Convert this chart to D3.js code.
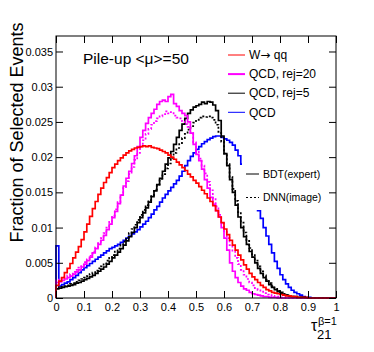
<!DOCTYPE html>
<html>
<head>
<meta charset="utf-8">
<script src="https://cdn.jsdelivr.net/npm/d3@7"></script>
<style>
  body { margin: 0; background: #fff; }
  text { font-family: "Liberation Sans", Arial, sans-serif; }
</style>
</head>
<body>
<script>
// tau21 histograms, 100 bins on [0,1], bin contents in units of 1e-4
const wqq = [18,24,29,36,42,49,57,65,73,83,
  94,105,116,127,137,147,156,164,171,178,
  185,190,195,199,203,206,209,211,213,214,
  215,216,215,216,214,213,212,210,208,206,
  203,200,197,193,189,185,181,176,172,167,
  163,158,153,148,142,137,131,124,115,107,
  98,90,82,75,68,61,54,47,41,35,
  30,26,22,18,15,12,10,8,7,6,
  5,4,3,3,2,2,1,1,1,1,
  0,0,0,0,0,0,0,0,0,0]
const qcd = [74,17,19,21,23,26,29,32,36,40,
  43,46,49,52,55,58,61,64,67,70,
  72,74,76,79,82,85,88,91,94,97,
  101,105,109,114,119,125,130,136,142,147,
  152,157,162,167,173,180,188,195,201,206,
  211,215,219,222,225,227,229,230,230,228,
  226,224,221,217,210,202,190,178,165,150,
  138,132,124,113,100,88,76,64,52,42,
  33,26,20,15,11,8,6,4,2,1,
  1,0,0,0,0,0,0,0,0,0]
const bdtRej5 = [13,14,15,16,17,18,19,21,22,24,
  26,28,30,32,35,38,41,44,48,52,
  57,61,65,70,75,81,87,93,100,107,
  114,121,128,136,144,152,161,170,180,190,
  199,208,218,228,238,247,255,262,267,271,
  273,275,278,276,279,278,274,266,252,230,
  205,188,168,150,132,115,100,87,76,66,
  58,50,42,35,29,24,19,15,12,9,
  7,5,4,3,2,2,1,1,1,0,
  0,0,0,0,0,0,0,0,0,0]
const dnnRej5 = [14,15,16,17,18,20,21,23,25,27,
  29,31,34,36,39,42,45,49,53,57,
  61,66,70,75,80,86,92,98,104,111,
  118,125,132,139,146,154,161,169,176,184,
  191,199,206,213,220,227,233,239,244,249,
  253,256,258,257,258,256,253,246,236,222,
  205,190,172,155,138,122,107,93,81,71,
  62,53,45,38,32,26,21,17,13,10,
  8,6,4,3,2,2,1,1,1,0,
  0,0,0,0,0,0,0,0,0,0]
const bdtRej20 = [22,23,25,27,29,31,34,37,40,44,
  48,53,58,64,70,76,82,89,97,105,
  114,123,134,146,159,170,180,191,202,215,
  228,238,248,256,262,268,275,279,281,279,
  286,289,276,272,266,262,259,250,234,218,
  204,195,183,168,156,143,133,124,115,100,
  85,68,50,38,29,22,17,13,11,8,
  6,5,4,3,2,2,1,1,1,0,
  0,0,0,0,0,0,0,0,0,0,
  0,0,0,0,0,0,0,0,0,0]
const dnnRej20 = [25,26,28,30,32,34,37,40,43,47,
  51,55,60,66,72,78,85,92,100,108,
  117,126,136,146,156,166,176,186,196,206,
  215,224,233,240,246,251,255,258,261,265,
  262,264,259,256,255,251,247,243,234,221,
  209,198,188,177,165,153,142,130,118,106,
  95,85,75,66,57,48,40,33,27,22,
  18,14,11,9,7,5,4,3,2,2,
  1,1,0,0,0,0,0,0,0,0,
  0,0,0,0,0,0,0,0,0,0]

const xTicks = [0,0.1,0.2,0.3,0.4,0.5,0.6,0.7,0.8,0.9,1]
const yTicks = [0,0.005,0.01,0.015,0.02,0.025,0.03,0.035]
const legendLabels = [["W", "\u2192", " qq"], ["QCD, rej=20"], ["QCD, rej=5"], ["QCD"]]
const methodLabels = ["BDT(expert)", "DNN(image)"]

var width = 374, height = 352
var x0 = 56, x1 = 336, y0 = 298, y1 = 36

var svg = d3.select("body").append("svg")
  .attr("width", width).attr("height", height)

var x = d3.scaleLinear().domain([0, 1]).range([x0, x1])
var y = d3.scaleLinear().domain([0, 0.0372]).range([y0, y1])
var nb = 100

function stepPoints(vals){
  var pts = [[0, 0]]
  vals.forEach(function(v, i){
    pts.push([i/nb, v*1e-4]); pts.push([(i+1)/nb, v*1e-4])
  })
  pts.push([1, 0])
  return pts
}
var line = d3.line().x(function(d){return x(d[0])}).y(function(d){return y(d[1])})

var series = [
  {vals: qcd, color: "#0000ff", dash: null},
  {vals: dnnRej5, color: "#000000", dash: "2,2"},
  {vals: bdtRej5, color: "#000000", dash: null},
  {vals: dnnRej20, color: "#ff00ff", dash: "2,2"},
  {vals: bdtRej20, color: "#ff00ff", dash: null},
  {vals: wqq, color: "#ff0000", dash: null}
]
svg.append("g").selectAll("path").data(series).enter().append("path")
  .attr("d", function(d){return line(stepPoints(d.vals))})
  .attr("fill", "none")
  .attr("stroke", function(d){return d.color})
  .attr("stroke-width", 1.7)
  .attr("stroke-dasharray", function(d){return d.dash})

// second legend box hides part of the curves
var leg2 = svg.append("g")
leg2.append("rect").attr("x", 242).attr("y", 162).attr("width", 90).attr("height", 48).attr("fill", "#fff")
methodLabels.forEach(function(t, i){
  var yy = 174 + i*23.5
  leg2.append("line").attr("x1", 246).attr("x2", 259).attr("y1", yy).attr("y2", yy)
    .attr("stroke", "#000").attr("stroke-width", 1)
    .attr("stroke-dasharray", i == 1 ? "2,2" : null)
  leg2.append("text").attr("x", 263).attr("y", yy).attr("dy", "0.35em")
    .attr("font-size", 10.5).text(t)
})

// axes
var fmt = function(d){return String(+d.toFixed(3))}
function styleAxis(g){
  g.attr("font-family", "Liberation Sans, Arial, sans-serif").attr("font-size", 11)
  g.select(".domain").remove()
  g.selectAll("line").attr("stroke", "#000")
}
svg.append("g").attr("transform", "translate(0," + y0 + ")")
  .call(d3.axisBottom(x).tickValues(xTicks).tickFormat(fmt).tickSize(-7).tickSizeOuter(0).tickPadding(5))
  .call(styleAxis)
svg.append("g").attr("transform", "translate(0," + y1 + ")")
  .call(d3.axisTop(x).tickValues(xTicks).tickFormat("").tickSize(-7).tickSizeOuter(0))
  .call(styleAxis)
svg.append("g").attr("transform", "translate(" + x0 + ",0)")
  .call(d3.axisLeft(y).tickValues(yTicks).tickFormat(fmt).tickSize(-7).tickSizeOuter(0).tickPadding(3))
  .call(styleAxis)
svg.append("g").attr("transform", "translate(" + x1 + ",0)")
  .call(d3.axisRight(y).tickValues(yTicks).tickFormat("").tickSize(-7).tickSizeOuter(0))
  .call(styleAxis)
svg.append("rect").attr("x", x0).attr("y", y1).attr("width", x1 - x0).attr("height", y0 - y1)
  .attr("fill", "none").attr("stroke", "#000").attr("stroke-width", 1)

// titles
svg.append("text").attr("transform", "translate(23,132.5) rotate(-90)")
  .attr("text-anchor", "middle").attr("font-size", 18).text("Fraction of Selected Events")
var xt = svg.append("g")
xt.append("text").attr("x", 311).attr("y", 331).attr("font-size", 16).text("\u03c4")
xt.append("text").attr("x", 318).attr("y", 325).attr("font-size", 11).text("\u03b2=1")
xt.append("text").attr("x", 317).attr("y", 339).attr("font-size", 13).text("21")

svg.append("text").attr("x", 83).attr("y", 64).attr("font-size", 15.5).text("Pile-up <\u03bc>=50")

// main legend
var legColors = ["#ff0000", "#ff00ff", "#000000", "#0000ff"]
var legWidths = [1, 2, 1, 1]
var leg = svg.append("g")
legendLabels.forEach(function(parts, i){
  var yy = 55 + i*19.1
  leg.append("line").attr("x1", 228).attr("x2", 245).attr("y1", yy).attr("y2", yy)
    .attr("stroke", legColors[i]).attr("stroke-width", legWidths[i])
  var t = leg.append("text").attr("x", 249).attr("y", yy).attr("dy", "0.35em").attr("font-size", 12)
  parts.forEach(function(p){
    var s = t.append("tspan").text(p)
    if (p == "\u2192") s.attr("font-family", "DejaVu Sans")
  })
})
</script>
</body>
</html>
